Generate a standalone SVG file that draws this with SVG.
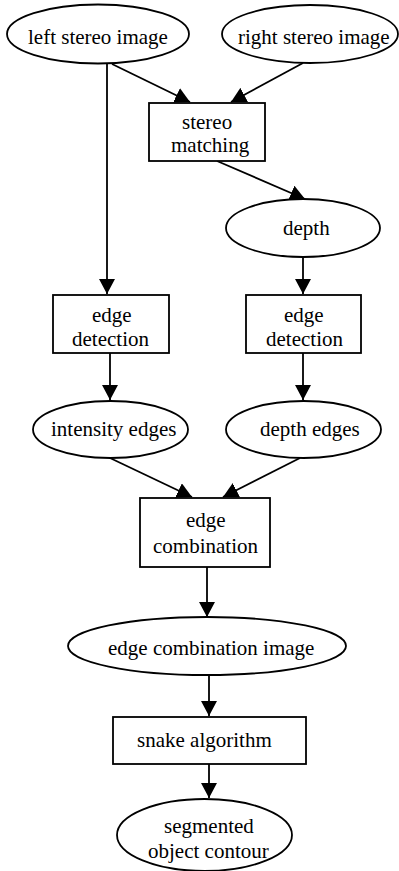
<svg xmlns="http://www.w3.org/2000/svg" width="399" height="871" viewBox="0 0 399 871">
<style>
.n ellipse, .n rect { fill: #ffffff; stroke: #000000; stroke-width: 1.8; }
.n text { font-family: "Liberation Serif", serif; font-size: 21px; fill: #000000; }
.e line { stroke: #000000; stroke-width: 1.8; }
</style>
<defs>
<marker id="ah" viewBox="0 0 15 16" refX="15" refY="8" markerWidth="15" markerHeight="16" orient="auto" markerUnits="userSpaceOnUse">
<path d="M0,0 L15,8 L0,16 Z" fill="#000000"/>
</marker>
</defs>
<rect x="0" y="0" width="399" height="871" fill="#ffffff"/>
<g id="edges" class="e">
<line x1="112" y1="64" x2="190" y2="102" marker-end="url(#ah)"/>
<line x1="303" y1="63" x2="231" y2="102" marker-end="url(#ah)"/>
<line x1="107" y1="64" x2="107" y2="294" marker-end="url(#ah)"/>
<line x1="217" y1="161" x2="305" y2="199" marker-end="url(#ah)"/>
<line x1="303" y1="257" x2="303" y2="294" marker-end="url(#ah)"/>
<line x1="110" y1="353" x2="110" y2="400" marker-end="url(#ah)"/>
<line x1="303" y1="353" x2="303" y2="400" marker-end="url(#ah)"/>
<line x1="110" y1="458" x2="192" y2="497" marker-end="url(#ah)"/>
<line x1="300" y1="458" x2="223" y2="497" marker-end="url(#ah)"/>
<line x1="207" y1="567" x2="207" y2="617" marker-end="url(#ah)"/>
<line x1="209" y1="675" x2="209" y2="716" marker-end="url(#ah)"/>
<line x1="209" y1="764" x2="209" y2="798" marker-end="url(#ah)"/>
</g>
<g id="left_stereo_image" class="n"><ellipse cx="98" cy="34" rx="91" ry="29.5"/><text x="28" y="44">left stereo image</text></g>
<g id="right_stereo_image" class="n"><ellipse cx="310" cy="34" rx="88" ry="29"/><text x="238" y="44">right stereo image</text></g>
<g id="stereo_matching" class="n"><rect x="149" y="103" width="116" height="58"/><text x="182" y="129">stereo</text><text x="171" y="152">matching</text></g>
<g id="depth" class="n"><ellipse cx="303" cy="228" rx="77" ry="29"/><text x="283" y="235">depth</text></g>
<g id="edge_detection_left" class="n"><rect x="53" y="295" width="116" height="58"/><text x="92" y="322">edge</text><text x="72" y="346">detection</text></g>
<g id="edge_detection_right" class="n"><rect x="246" y="295" width="115" height="58"/><text x="284" y="322">edge</text><text x="266" y="346">detection</text></g>
<g id="intensity_edges" class="n"><ellipse cx="110.5" cy="429.5" rx="77.5" ry="28.5"/><text x="51" y="436">intensity edges</text></g>
<g id="depth_edges" class="n"><ellipse cx="303.5" cy="429.5" rx="77.5" ry="28.5"/><text x="260" y="436">depth edges</text></g>
<g id="edge_combination" class="n"><rect x="140" y="498" width="130" height="69"/><text x="186" y="527">edge</text><text x="153" y="553">combination</text></g>
<g id="edge_combination_image" class="n"><ellipse cx="207" cy="646" rx="139" ry="29"/><text x="108" y="655">edge combination image</text></g>
<g id="snake_algorithm" class="n"><rect x="113" y="717" width="193" height="47"/><text x="137" y="747">snake algorithm</text></g>
<g id="segmented_object_contour" class="n"><ellipse cx="204.5" cy="835" rx="87.5" ry="36"/><text x="164" y="833">segmented</text><text x="148" y="858">object contour</text></g>
</svg>
